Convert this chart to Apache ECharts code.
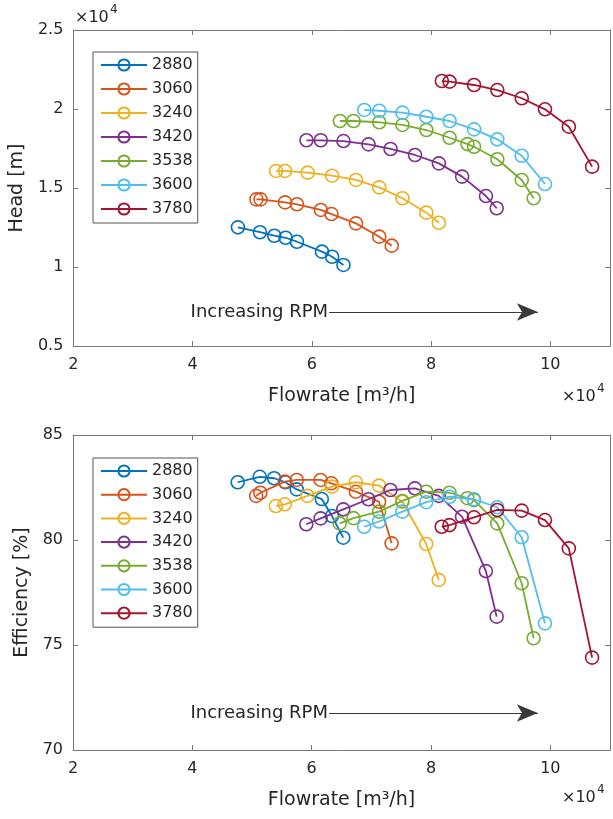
<!DOCTYPE html>
<html>
<head>
<meta charset="utf-8">
<script src="https://cdn.jsdelivr.net/npm/echarts@6/dist/echarts.min.js"></script>
<style>html,body{margin:0;padding:0;background:#fff}#c{width:613px;height:819px}</style>
</head>
<body>
<div id="c"></div>
<script>
// ---- data (flowrate and head in units of 1e4) ----
const rpmNames = ['2880', '3060', '3240', '3420', '3538', '3600', '3780'];
const xTicks = [2, 4, 6, 8, 10];
const headTicks = [0.5, 1, 1.5, 2, 2.5];
const effTicks = [70, 75, 80, 85];

const flow2880 = [4.76, 5.13, 5.37, 5.56, 5.75, 6.17, 6.34, 6.53];
const head2880 = [1.251, 1.220, 1.198, 1.185, 1.160, 1.097, 1.065, 1.013];
const eff2880  = [82.75, 83.01, 82.94, 82.75, 82.41, 81.95, 81.14, 80.11];

const flow3060 = [5.07, 5.14, 5.55, 5.75, 6.15, 6.33, 6.74, 7.13, 7.34];
const head3060 = [1.428, 1.428, 1.409, 1.397, 1.361, 1.335, 1.276, 1.192, 1.135];
const eff3060  = [82.10, 82.25, 82.78, 82.86, 82.86, 82.70, 82.30, 81.82, 79.84];

const flow3240 = [5.40, 5.55, 5.93, 6.34, 6.74, 7.13, 7.52, 7.92, 8.13];
const head3240 = [1.608, 1.608, 1.597, 1.578, 1.551, 1.504, 1.435, 1.344, 1.280];
const eff3240  = [81.62, 81.70, 82.10, 82.54, 82.75, 82.59, 81.82, 79.81, 78.10];

const flow3420 = [5.91, 6.15, 6.53, 6.95, 7.32, 7.73, 8.13, 8.52, 8.92, 9.10];
const head3420 = [1.802, 1.802, 1.797, 1.776, 1.747, 1.709, 1.656, 1.572, 1.449, 1.372];
const eff3420  = [80.75, 81.03, 81.46, 81.94, 82.38, 82.46, 82.10, 81.11, 78.52, 76.35];

const flow3538 = [6.47, 6.70, 7.13, 7.52, 7.92, 8.31, 8.61, 8.72, 9.11, 9.52, 9.72];
const head3538 = [1.924, 1.924, 1.916, 1.899, 1.867, 1.818, 1.778, 1.761, 1.682, 1.551, 1.435];
const eff3538  = [80.79, 81.04, 81.35, 81.86, 82.30, 82.25, 81.99, 81.90, 80.79, 77.94, 75.32];

const flow3600 = [6.88, 7.13, 7.52, 7.92, 8.31, 8.72, 9.11, 9.52, 9.91];
const head3600 = [1.994, 1.989, 1.977, 1.951, 1.924, 1.871, 1.808, 1.704, 1.525];
const eff3600  = [80.63, 80.88, 81.35, 81.80, 82.06, 81.94, 81.56, 80.13, 76.03];

const flow3780 = [8.18, 8.31, 8.72, 9.11, 9.52, 9.91, 10.31, 10.70];
const head3780 = [2.177, 2.173, 2.152, 2.120, 2.068, 1.998, 1.888, 1.635];
const eff3780  = [80.63, 80.71, 81.08, 81.43, 81.40, 80.95, 79.60, 74.40];

const annotationText = 'Increasing RPM';
const arrowFlow = [6.29, 9.79];
const arrowHead = 0.715;
const arrowEff = 71.76;

// ---- build ----
const flows = [flow2880, flow3060, flow3240, flow3420, flow3538, flow3600, flow3780];
const heads = [head2880, head3060, head3240, head3420, head3538, head3600, head3780];
const effs  = [eff2880, eff3060, eff3240, eff3420, eff3538, eff3600, eff3780];
const colors = ['#0072BD', '#D95319', '#EDB120', '#7E2F8E', '#77AC30', '#4DBEEE', '#A2142F'];
const FONT = '"DejaVu Sans", "Liberation Sans", Arial, sans-serif';
const AX = '#7a7a7a';
const TXT = '#262626';

function xAxisPair(gridIndex) {
  const base = {
    gridIndex, type: 'value', min: xTicks[0], max: 11, interval: xTicks[1] - xTicks[0],
    splitLine: { show: false },
    axisLine: { show: true, lineStyle: { color: AX, width: 1 } },
    axisTick: { show: true, inside: true, length: 5, lineStyle: { color: AX } }
  };
  return [
    Object.assign({}, base, {
      position: 'bottom',
      name: 'Flowrate [m³/h]', nameLocation: 'middle', nameGap: 41,
      nameTextStyle: { fontSize: 19, color: TXT, fontFamily: FONT },
      axisLabel: { show: true, margin: 11, fontSize: 16, color: TXT, fontFamily: FONT, showMaxLabel: false }
    }),
    Object.assign({}, base, { position: 'top', axisLabel: { show: false } })
  ];
}
function yAxisPair(gridIndex, ticks, name, gap) {
  const base = {
    gridIndex, type: 'value', min: ticks[0], max: ticks[ticks.length - 1], interval: ticks[1] - ticks[0],
    splitLine: { show: false },
    axisLine: { show: true, lineStyle: { color: AX, width: 1 } },
    axisTick: { show: true, inside: true, length: 5, lineStyle: { color: AX } }
  };
  return [
    Object.assign({}, base, {
      position: 'left', name, nameLocation: 'middle', nameGap: gap,
      nameTextStyle: { fontSize: 19, color: TXT, fontFamily: FONT },
      axisLabel: { show: true, margin: 10, fontSize: 16, color: TXT, fontFamily: FONT }
    }),
    Object.assign({}, base, { position: 'right', axisLabel: { show: false } })
  ];
}

const series = [];
rpmNames.forEach((name, i) => {
  const style = {
    type: 'line', name, symbol: 'circle', symbolSize: 13, showSymbol: true,
    color: colors[i],
    itemStyle: { color: 'rgba(255,255,255,0)', borderColor: colors[i], borderWidth: 1.6 },
    lineStyle: { color: colors[i], width: 1.8 },
    emphasis: { disabled: true }, silent: true, z: 2 + i
  };
  series.push(Object.assign({}, style, {
    xAxisIndex: 0, yAxisIndex: 0,
    data: flows[i].map((x, j) => [x, heads[i][j]])
  }));
  series.push(Object.assign({}, style, {
    xAxisIndex: 2, yAxisIndex: 2,
    data: flows[i].map((x, j) => [x, effs[i][j]])
  }));
});

function arrowSeries(xi, yi, yVal) {
  return {
    type: 'line', name: 'annot' + xi, xAxisIndex: xi, yAxisIndex: yi, data: [], silent: true,
    markLine: {
      silent: true, animation: false,
      symbol: ['none', 'arrow'], symbolSize: [13, 21],
      lineStyle: { color: '#3a3a3a', width: 1, type: 'solid' },
      label: { show: true, position: 'start', formatter: annotationText, distance: 1,
               fontSize: 18, color: TXT, fontFamily: FONT },
      data: [[{ coord: [arrowFlow[0], yVal] }, { coord: [arrowFlow[1], yVal] }]]
    }
  };
}
series.push(arrowSeries(0, 0, arrowHead));
series.push(arrowSeries(2, 2, arrowEff));

const legendBase = {
  data: rpmNames, orient: 'vertical', left: 93,
  itemWidth: 46, itemHeight: 14, itemGap: 8,
  padding: [5, 5, 6, 7],
  borderColor: '#555', borderWidth: 1, backgroundColor: '#fff',
  selectedMode: false,
  textStyle: { fontSize: 16, color: TXT, fontFamily: FONT }
};

function supText(x, y, size) {
  return [
    { type: 'text', left: x, top: y, style: { text: '×10', fontSize: size, fill: TXT, fontFamily: FONT } },
    { type: 'text', left: x + 35, top: y - 6, style: { text: '4', fontSize: 12, fill: TXT, fontFamily: FONT } }
  ];
}

const option = {
  animation: false,
  backgroundColor: '#fff',
  grid: [
    { left: 73, right: 3, top: 30, height: 316 },
    { left: 73, right: 3, top: 435, height: 315 }
  ],
  xAxis: [...xAxisPair(0), ...xAxisPair(1)],
  yAxis: [...yAxisPair(0, headTicks, 'Head [m]', 44), ...yAxisPair(1, effTicks, 'Efficiency [%]', 32)],
  legend: [
    Object.assign({}, legendBase, { top: 52 }),
    Object.assign({}, legendBase, { top: 458, itemGap: 7.7 })
  ],
  graphic: [
    ...supText(75, 10, 16),
    ...supText(562, 389, 16),
    ...supText(562, 790, 16)
  ],
  series
};

const chart = echarts.init(document.getElementById('c'), null, { renderer: 'canvas' });
chart.setOption(option);
</script>
</body>
</html>
